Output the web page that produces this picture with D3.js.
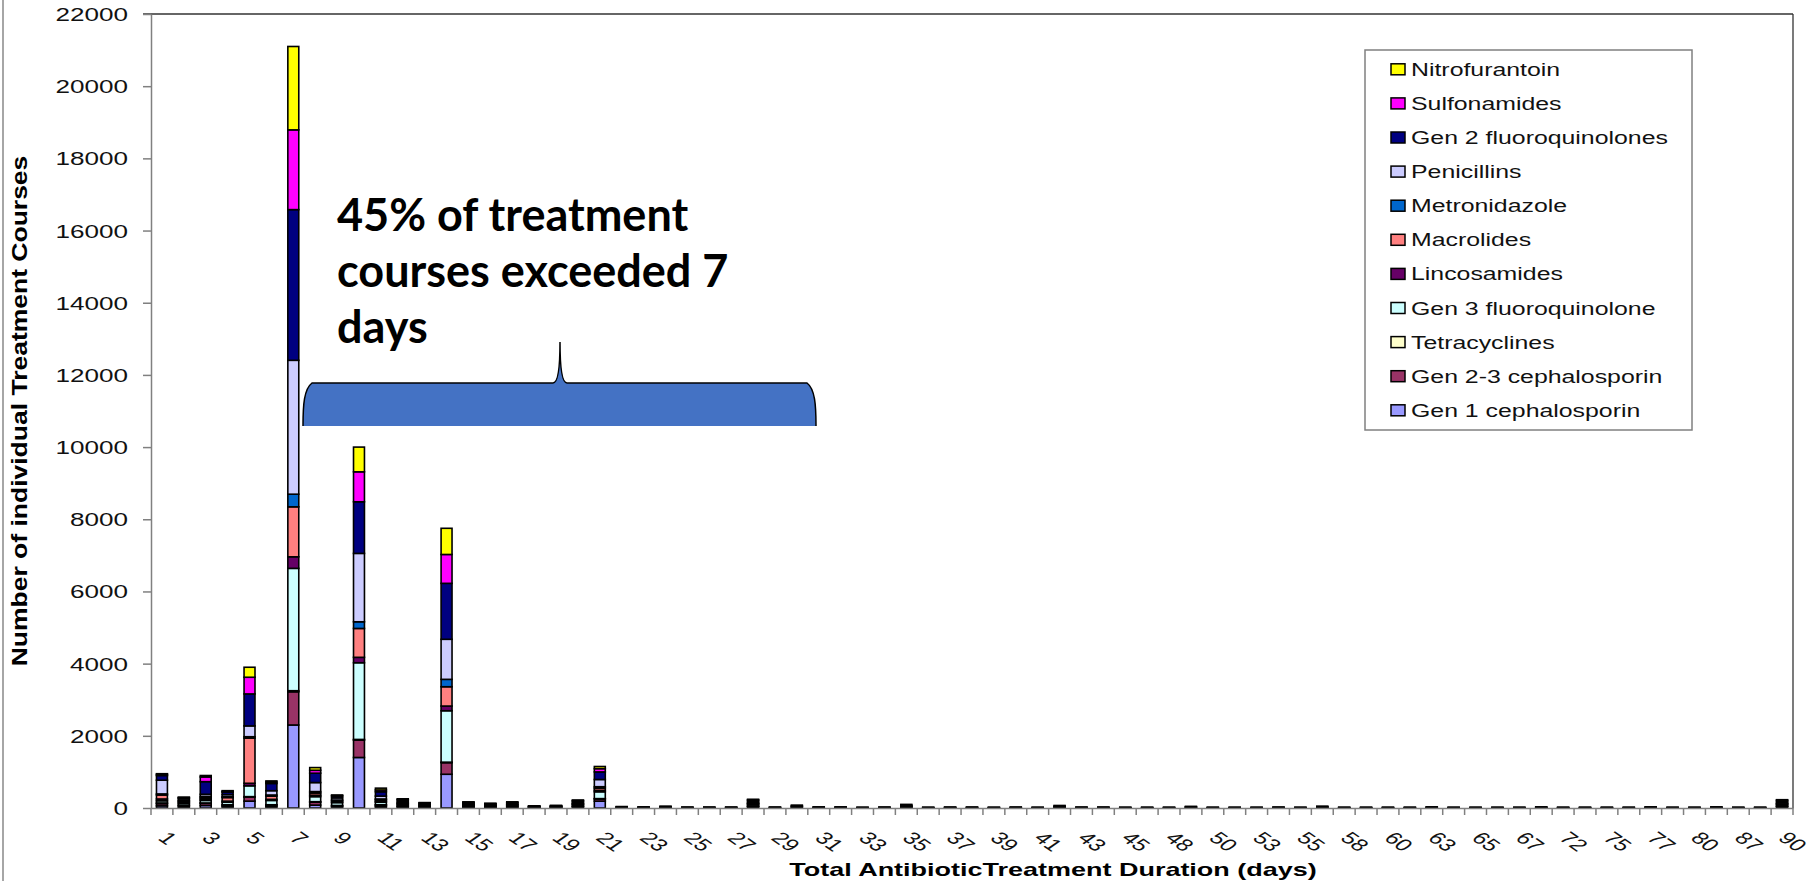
<!DOCTYPE html>
<html><head><meta charset="utf-8">
<script src="https://cdn.jsdelivr.net/npm/d3@7"></script>
<style>body{margin:0;background:#fff}svg{display:block}</style>
</head><body>
<svg id="c" width="1815" height="881"></svg>
<script>
// ---------------- DATA ----------------
const categories = ["1","2","3","4","5","6","7","8","9","10","11","12","13","14","15","16","17","18","19","20",
  "21","22","23","24","25","26","27","28","29","30","31","32","33","34","35","36","37","38","39","40",
  "41","42","43","44","45","46","48","49","50","52","53","54","55","56","58","59","60","62","63","64",
  "65","66","67","70","72","74","75","76","77","79","80","84","87","89","90"];

// series, listed bottom of stack -> top of stack
const seriesNames = ["Gen 1 cephalosporin","Gen 2-3 cephalosporin","Tetracyclines","Gen 3 fluoroquinolone",
  "Lincosamides","Macrolides","Metronidazole","Penicillins","Gen 2 fluoroquinolones","Sulfonamides","Nitrofurantoin"];

const gen1Ceph = [60,30,70,40,190,40,2300,80,30,1400,40,25,15,935,20,15,20,8,8,25,190,
  10,8,12,6,6,6,30,6,20,8, 8,5,6,20,5,6,6,5,6,5, 18,6,6,5,5,5,12,5,5,5, 6,5,12,5,5,5,5,8,5,5, 5,5,8,5,5,5,5,8,5,5, 8,5,5,30];
const gen23Ceph = [60,40,60,40,110,40,920,80,30,480,40,25,15,320,15,10,15,5,6,20,60,
  0,0,0,0,0,0,20,0,0,0, 0,0,0,5,0,0,0,0,0,0, 0,0,0,0,0,0,0,0,0,0, 0,0,0,0,0,0,0,0,0,0, 0,0,0,0,0,0,0,0,0,0, 0,0,0,20];
const tetracyclines = [20,10,10,10,15,10,30,15,10,20,10,5,5,15,5,5,5,2,2,5,10,
  0,0,0,0,0,0,5,0,0,0, 0,0,0,0,0,0,0,0,0,0, 0,0,0,0,0,0,0,0,0,0, 0,0,0,0,0,0,0,0,0,0, 0,0,0,0,0,0,0,0,0,0, 0,0,0,5];
const gen3FQ = [60,50,70,70,300,120,3390,140,80,2125,70,40,25,1425,30,25,30,10,12,40,190,
  10,8,13,7,7,7,45,7,20,8, 8,5,7,25,5,7,7,5,7,5, 17,7,7,5,5,5,11,5,5,5, 7,5,13,5,5,5,5,8,5,5, 5,5,8,5,5,5,5,8,5,5, 8,5,5,40];
const lincosamides = [50,20,40,30,70,30,320,40,20,150,30,15,10,130,10,5,10,3,4,10,40,
  0,0,0,0,0,0,10,0,0,0, 0,0,0,0,0,0,0,0,0,0, 0,0,0,0,0,0,0,0,0,0, 0,0,0,0,0,0,0,0,0,0, 0,0,0,0,0,0,0,0,0,0, 0,0,0,10];
const macrolides = [110,40,40,100,1250,90,1385,60,40,800,40,25,15,535,15,10,15,5,6,20,60,
  0,0,0,0,0,0,20,0,0,0, 0,0,0,5,0,0,0,0,0,0, 0,0,0,0,0,0,0,0,0,0, 0,0,0,0,0,0,0,0,0,0, 0,0,0,0,0,0,0,0,0,0, 0,0,0,20];
const metronidazole = [30,10,30,20,40,30,350,40,10,185,20,10,5,205,5,5,5,2,2,10,40,
  0,0,0,0,0,0,10,0,0,0, 0,0,0,0,0,0,0,0,0,0, 0,0,0,0,0,0,0,0,0,0, 0,0,0,0,0,0,0,0,0,0, 0,0,0,0,0,0,0,0,0,0, 0,0,0,10];
const penicillins = [380,50,60,60,300,120,3710,250,60,1895,80,40,25,1110,30,25,30,10,12,40,200,
  10,7,13,6,6,6,40,6,20,7, 7,5,6,25,5,6,6,5,6,5, 18,6,6,5,5,5,11,5,5,5, 6,5,13,5,5,5,5,7,5,5, 5,5,7,5,5,5,5,7,5,5, 7,5,5,40];
const gen2FQ = [130,30,350,70,886,200,4175,260,50,1430,120,40,20,1550,20,15,20,8,9,30,210,
  10,7,12,6,6,6,35,6,20,7, 7,5,6,20,5,6,6,5,6,5, 17,6,6,5,5,5,11,5,5,5, 6,5,12,5,5,5,5,7,5,5, 5,5,7,5,5,5,5,7,5,5, 7,5,5,30];
const sulfonamides = [30,10,130,20,462,40,2210,80,15,830,50,15,8,800,10,8,10,4,5,10,90,
  0,0,0,0,0,0,15,0,0,0, 0,0,0,0,0,0,0,0,0,0, 0,0,0,0,0,0,0,0,0,0, 0,0,0,0,0,0,0,0,0,0, 0,0,0,0,0,0,0,0,0,0, 0,0,0,15];
const nitrofurantoin = [20,10,40,20,277,30,2310,75,15,685,50,15,7,725,10,7,10,3,4,10,60,
  0,0,0,0,0,0,10,0,0,0, 0,0,0,0,0,0,0,0,0,0, 0,0,0,0,0,0,0,0,0,0, 0,0,0,0,0,0,0,0,0,0, 0,0,0,0,0,0,0,0,0,0, 0,0,0,10];

const yTicks = [0,2000,4000,6000,8000,10000,12000,14000,16000,18000,20000,22000];
const xTickLabels = ["1","3","5","7","9","11","13","15","17","19","21","23","25","27","29","31","33","35","37","39",
  "41","43","45","48","50","53","55","58","60","63","65","67","72","75","77","80","87","90"];

const seriesValues = [gen1Ceph,gen23Ceph,tetracyclines,gen3FQ,lincosamides,macrolides,metronidazole,
  penicillins,gen2FQ,sulfonamides,nitrofurantoin];
const seriesColors = ["#9999FF","#993366","#FFFFCC","#CCFFFF","#660066","#FF8080","#0066CC",
  "#CCCCFF","#000080","#FF00FF","#FFFF00"];

// ---------------- CHART ----------------
(function(){
const svg = d3.select("#c");
const FONT = "'Liberation Sans', Arial, sans-serif";
const SX = 1.45; // horizontal stretch of the original picture

const table = categories.map((c,i)=>{
  const row = {cat:c};
  seriesNames.forEach((s,k)=>row[s]=seriesValues[k][i]);
  return row;
});

const pL = 151, pR = 1793, pT = 14, pB = 808;
const x = d3.scaleBand().domain(categories).range([pL,pR]).paddingInner(0.5).paddingOuter(0.25);
const y = d3.scaleLinear().domain([0,22000]).range([pB,pT]);

// left slide edge line
svg.append("line").attr("x1",3).attr("x2",3).attr("y1",0).attr("y2",881)
  .attr("stroke","#a6a6a6").attr("stroke-width",2);

// bars
const stack = d3.stack().keys(seriesNames)(table);
const layers = svg.append("g").selectAll("g").data(stack).join("g")
  .attr("fill",(d,i)=>seriesColors[i]);
layers.selectAll("rect").data(d=>d.filter(p=>p[1]-p[0]>0)).join("rect")
  .attr("x",d=>x(d.data.cat))
  .attr("width",x.bandwidth())
  .attr("y",d=>y(d[1]))
  .attr("height",d=>y(d[0])-y(d[1]))
  .attr("stroke","#000").attr("stroke-width",1.6);

// frame top & right
svg.append("line").attr("x1",pL-8).attr("x2",pR).attr("y1",pT).attr("y2",pT).attr("stroke","#333").attr("stroke-width",1.3);
svg.append("line").attr("x1",pR).attr("x2",pR).attr("y1",pT).attr("y2",pB).attr("stroke","#333").attr("stroke-width",1.3);

// y axis
const yAxis = svg.append("g").attr("transform",`translate(${pL},0)`)
  .call(d3.axisLeft(y).tickValues(yTicks).tickSize(8).tickSizeOuter(0).tickPadding(0).tickFormat(d3.format("d")));
yAxis.select(".domain").attr("stroke","#808080").attr("stroke-width",1.5);
yAxis.selectAll(".tick line").attr("stroke","#808080").attr("stroke-width",1.5);
yAxis.selectAll(".tick text")
  .attr("font-family",FONT).attr("font-size",18).attr("fill","#111")
  .attr("x",-23/SX).attr("dy","0.36em").attr("transform",`scale(${SX},1)`);

// x axis
const xAxis = svg.append("g").attr("transform",`translate(0,${pB})`)
  .call(d3.axisBottom(x).tickSize(0).tickSizeOuter(0).tickFormat(d=>xTickLabels.includes(d)&&categories.indexOf(d)%2===0?d:""));
xAxis.select(".domain").attr("stroke","#808080").attr("stroke-width",1.5);
xAxis.selectAll(".tick text")
  .attr("font-family",FONT).attr("font-size",17).attr("fill","#111")
  .attr("text-anchor","start").attr("x",0).attr("y",0).attr("dy",0)
  .attr("transform",`translate(-5,31) scale(1.45,1) rotate(45)`);
const half = (x.step()-x.bandwidth())/2;
const bounds = categories.map(c=>x(c)-half).concat([x(categories[categories.length-1])+x.bandwidth()+half]);
svg.append("g").selectAll("line").data(bounds).join("line")
  .attr("x1",d=>d).attr("x2",d=>d).attr("y1",pB).attr("y2",pB+7)
  .attr("stroke","#808080").attr("stroke-width",1.5);

// axis titles
svg.append("g").attr("transform",`translate(1053,876) scale(1.42,1)`)
  .append("text").attr("text-anchor","middle").attr("font-family",FONT).attr("font-weight","bold")
  .attr("font-size",19).attr("fill","#000").text("Total AntibioticTreatment Duration (days)");
svg.append("g").attr("transform",`translate(27,411) scale(0.82,1) rotate(-90)`)
  .append("text").attr("text-anchor","middle").attr("font-family",FONT).attr("font-weight","bold")
  .attr("font-size",26.5).attr("fill","#000").text("Number of individual Treatment Courses");

// legend
const lg = svg.append("g");
lg.append("rect").attr("x",1365).attr("y",50).attr("width",327).attr("height",380)
  .attr("fill","#fff").attr("stroke","#808080").attr("stroke-width",1.5);
const legendOrder = seriesNames.slice().reverse();
legendOrder.forEach((s,i)=>{
  const cy = 69.3 + i*34.1;
  lg.append("rect").attr("x",1391).attr("y",cy-5.5).attr("width",14).attr("height",11)
    .attr("fill",seriesColors[seriesNames.indexOf(s)]).attr("stroke","#000").attr("stroke-width",1.5);
  lg.append("g").attr("transform",`translate(1411,${cy+6.5}) scale(1.42,1)`)
    .append("text").attr("font-family",FONT).attr("font-size",17.5).attr("fill","#111").text(s);
});

// annotation
const ann = svg.append("g").attr("font-family","Lato, 'Open Sans', sans-serif").attr("font-weight","bold")
  .attr("font-size",45).attr("fill","#000");
["45% of treatment","courses exceeded 7","days"].forEach((t,i)=>{
  ann.append("text").attr("x",337).attr("y",231+i*56).text(t);
});
// brace
const braceFill = "M303,426 C303,405 304,389 312,383 L553,383 Q560,383 560,342 Q560,383 567,383 L807,383 C815,389 816,405 816,426 Z";
const braceLine = "M303,426 C303,405 304,389 312,383 L553,383 Q560,383 560,342 Q560,383 567,383 L807,383 C815,389 816,405 816,426";
svg.append("path").attr("d",braceFill).attr("fill","#4472C4");
svg.append("path").attr("d",braceLine).attr("fill","none").attr("stroke","#000").attr("stroke-width",1.5);
})();
</script>
</body></html>
